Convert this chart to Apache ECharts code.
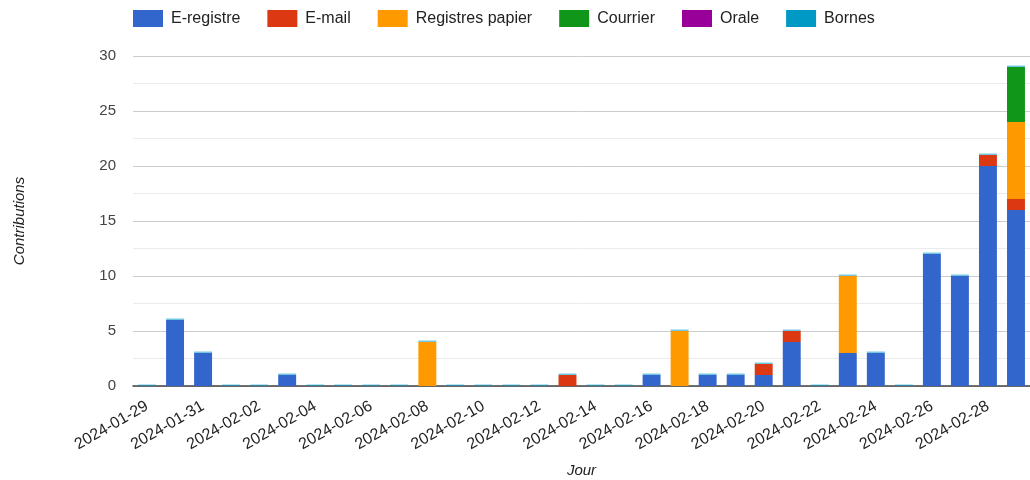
<!DOCTYPE html>
<html><head><meta charset="utf-8">
<script src="https://cdn.jsdelivr.net/npm/echarts@6/dist/echarts.min.js"></script>
<style>html,body{margin:0;padding:0;background:#fff}#c{width:1030px;height:480px}</style>
</head><body><div id="c"></div>
<script>
const categories = ["2024-01-29","2024-01-30","2024-01-31","2024-02-01","2024-02-02","2024-02-03","2024-02-04","2024-02-05","2024-02-06","2024-02-07","2024-02-08","2024-02-09","2024-02-10","2024-02-11","2024-02-12","2024-02-13","2024-02-14","2024-02-15","2024-02-16","2024-02-17","2024-02-18","2024-02-19","2024-02-20","2024-02-21","2024-02-22","2024-02-23","2024-02-24","2024-02-25","2024-02-26","2024-02-27","2024-02-28","2024-02-29"];
const eregistre = [0,6,3,0,0,1,0,0,0,0,0,0,0,0,0,0,0,0,1,0,1,1,1,4,0,3,3,0,12,10,20,16];
const email     = [0,0,0,0,0,0,0,0,0,0,0,0,0,0,0,1,0,0,0,0,0,0,1,1,0,0,0,0,0,0,1,1];
const papier    = [0,0,0,0,0,0,0,0,0,0,4,0,0,0,0,0,0,0,0,5,0,0,0,0,0,7,0,0,0,0,0,7];
const courrier  = [0,0,0,0,0,0,0,0,0,0,0,0,0,0,0,0,0,0,0,0,0,0,0,0,0,0,0,0,0,0,0,5];
const orale     = [0,0,0,0,0,0,0,0,0,0,0,0,0,0,0,0,0,0,0,0,0,0,0,0,0,0,0,0,0,0,0,0];
const bornes    = [0,0,0,0,0,0,0,0,0,0,0,0,0,0,0,0,0,0,0,0,0,0,0,0,0,0,0,0,0,0,0,0];
const seriesNames = ["E-registre","E-mail","Registres papier","Courrier","Orale","Bornes"];
const colors = ["#3366cc","#dc3912","#ff9900","#109618","#990099","#0099c6"];
const allData = [eregistre,email,papier,courrier,orale,bornes];

const chart = echarts.init(document.getElementById('c'));
chart.setOption({
  animation:false,
  color: colors,
  textStyle:{fontFamily:'Liberation Sans, Arial, sans-serif'},
  legend:{
    top:10, left:133, padding:0, itemWidth:30, itemHeight:17, itemGap:27,
    icon:'rect',
    textStyle:{fontSize:16,color:'#222',padding:[0,0,0,3]},
    data: seriesNames.map((n,i)=>({name:n, itemStyle:{color:colors[i], opacity:1}}))
  },
  grid:{left:133, right:0, top:56, bottom:94, containLabel:false, outerBoundsMode:'none'},
  xAxis:{
    type:'category', data:categories,
    name:'Jour', nameLocation:'middle', nameGap:77,
    nameTextStyle:{fontStyle:'italic',fontSize:15,color:'#222'},
    axisTick:{show:false},
    axisLine:{lineStyle:{color:'#444',width:1.5}},
    axisLabel:{interval:1, rotate:30, fontSize:16, color:'#222', margin:19}
  },
  yAxis:{
    type:'value', min:0, max:30, interval:5,
    name:'Contributions', nameLocation:'middle', nameGap:106,
    nameTextStyle:{fontStyle:'italic',fontSize:15,color:'#222'},
    axisLabel:{fontSize:15,color:'#444',margin:17},
    axisLine:{show:false}, axisTick:{show:false},
    splitLine:{lineStyle:{color:'#cccccc'}},
    minorTick:{show:false, splitNumber:2},
    minorSplitLine:{show:true,lineStyle:{color:'#ebebeb'}}
  },
  series: seriesNames.map((n,i)=>({
    name:n, type:'bar', stack:'total', data:allData[i],
    barCategoryGap:'36%',
    barMinHeight: i===5 ? 1.5 : 0,
    itemStyle:{color:colors[i], opacity: i===5 ? 0.55 : 1}
  }))
});
</script></body></html>
